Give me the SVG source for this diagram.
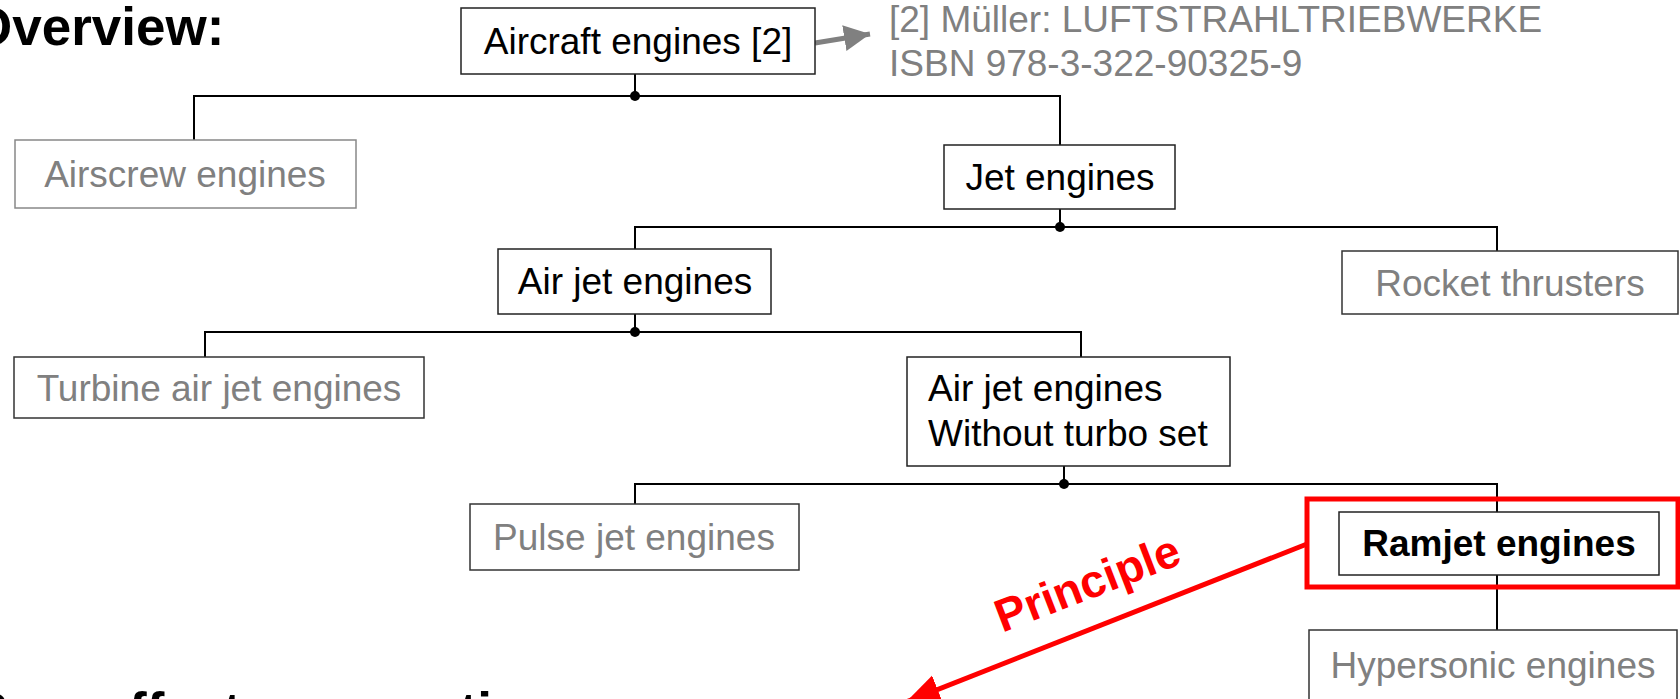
<svg xmlns="http://www.w3.org/2000/svg" width="1680" height="699" viewBox="0 0 1680 699">
<defs>
<style>
.t{font-family:"Liberation Sans",Arial,sans-serif;font-size:37px;fill:#000}
.g{fill:#808080}
.b{font-weight:bold}
.h{font-family:"Liberation Sans",Arial,sans-serif;font-size:53px;font-weight:bold;fill:#000}
.box{fill:#fff;stroke:#222;stroke-width:1.5}
.gbox{fill:#fff;stroke:#333;stroke-width:1.5}
.conn{stroke:#000;stroke-width:2;fill:none}
</style>
<marker id="ga" markerUnits="userSpaceOnUse" markerWidth="28" markerHeight="28" refX="26" refY="13" orient="auto">
<path d="M0,0 L26,13 L0,26 Z" fill="#808080"/>
</marker>
<marker id="ra" markerUnits="userSpaceOnUse" markerWidth="36" markerHeight="32" refX="34" refY="15" orient="auto">
<path d="M0,0 L34,15 L0,30 Z" fill="#ff0000"/>
</marker>
</defs>
<rect width="1680" height="699" fill="#fff"/>

<text class="h" x="-29" y="45">Overview:</text>
<text class="h" x="-30" y="730">Ram effect <tspan dx="30">generation:</tspan></text>

<g id="connectors">
<path class="conn" d="M635 74 V96 M194 140 V96 H1060 V145"/>
<path class="conn" d="M1060 209 V227 M635 249 V227 H1497 V251"/>
<path class="conn" d="M635 314 V332 M205 357 V332 H1081 V357"/>
<path class="conn" d="M1064 466 V484 M635 504 V484 H1497 V512"/>
<path class="conn" d="M1497 575 V630"/>
<circle cx="635" cy="96" r="5"/>
<circle cx="1060" cy="227" r="5"/>
<circle cx="635" cy="332" r="5"/>
<circle cx="1064" cy="484" r="5"/>
<line x1="815" y1="43" x2="870" y2="34" stroke="#808080" stroke-width="5" marker-end="url(#ga)"/>
<line x1="1307" y1="544" x2="906" y2="702" stroke="#ff0000" stroke-width="5" marker-end="url(#ra)"/>
</g>

<g id="aircraft">
<rect class="box" x="461" y="8" width="354" height="66"/>
<text class="t" x="638" y="54" text-anchor="middle">Aircraft engines [2]</text>
</g>
<g id="reference">
<text class="t g" x="889" y="32">[2] Müller: LUFTSTRAHLTRIEBWERKE</text>
<text class="t g" x="889" y="76">ISBN 978-3-322-90325-9</text>
</g>
<g id="airscrew">
<rect class="gbox" x="15" y="140" width="341" height="68" style="stroke:#888"/>
<text class="t g" x="185" y="187" text-anchor="middle">Airscrew engines</text>
</g>
<g id="jet">
<rect class="box" x="944" y="145" width="231" height="64"/>
<text class="t" x="1060" y="190" text-anchor="middle">Jet engines</text>
</g>
<g id="airjet">
<rect class="box" x="498" y="249" width="273" height="65"/>
<text class="t" x="635" y="294" text-anchor="middle">Air jet engines</text>
</g>
<g id="rocket">
<rect class="gbox" x="1342" y="251" width="336" height="63"/>
<text class="t g" x="1510" y="296" text-anchor="middle">Rocket thrusters</text>
</g>
<g id="turbine">
<rect class="gbox" x="14" y="357" width="410" height="61"/>
<text class="t g" x="219" y="401" text-anchor="middle">Turbine air jet engines</text>
</g>
<g id="noturbo">
<rect class="box" x="907" y="357" width="323" height="109"/>
<text class="t" x="928" y="401">Air jet engines</text>
<text class="t" x="928" y="446">Without turbo set</text>
</g>
<g id="pulse">
<rect class="gbox" x="470" y="504" width="329" height="66"/>
<text class="t g" x="634" y="550" text-anchor="middle">Pulse jet engines</text>
</g>
<g id="ramjet">
<rect x="1307" y="499" width="371" height="88" fill="none" stroke="#ff0000" stroke-width="5"/>
<rect class="box" x="1339" y="512" width="320" height="63"/>
<text class="t b" x="1499" y="556" text-anchor="middle">Ramjet engines</text>
</g>
<g id="hypersonic">
<rect class="gbox" x="1309" y="630" width="368" height="80"/>
<text class="t g" x="1493" y="678" text-anchor="middle">Hypersonic engines</text>
</g>
<text x="1093" y="598" text-anchor="middle" transform="rotate(-21 1093 598)" style="font-family:'Liberation Sans',Arial,sans-serif;font-size:46px;font-weight:bold;fill:#ff0000">Principle</text>
</svg>
